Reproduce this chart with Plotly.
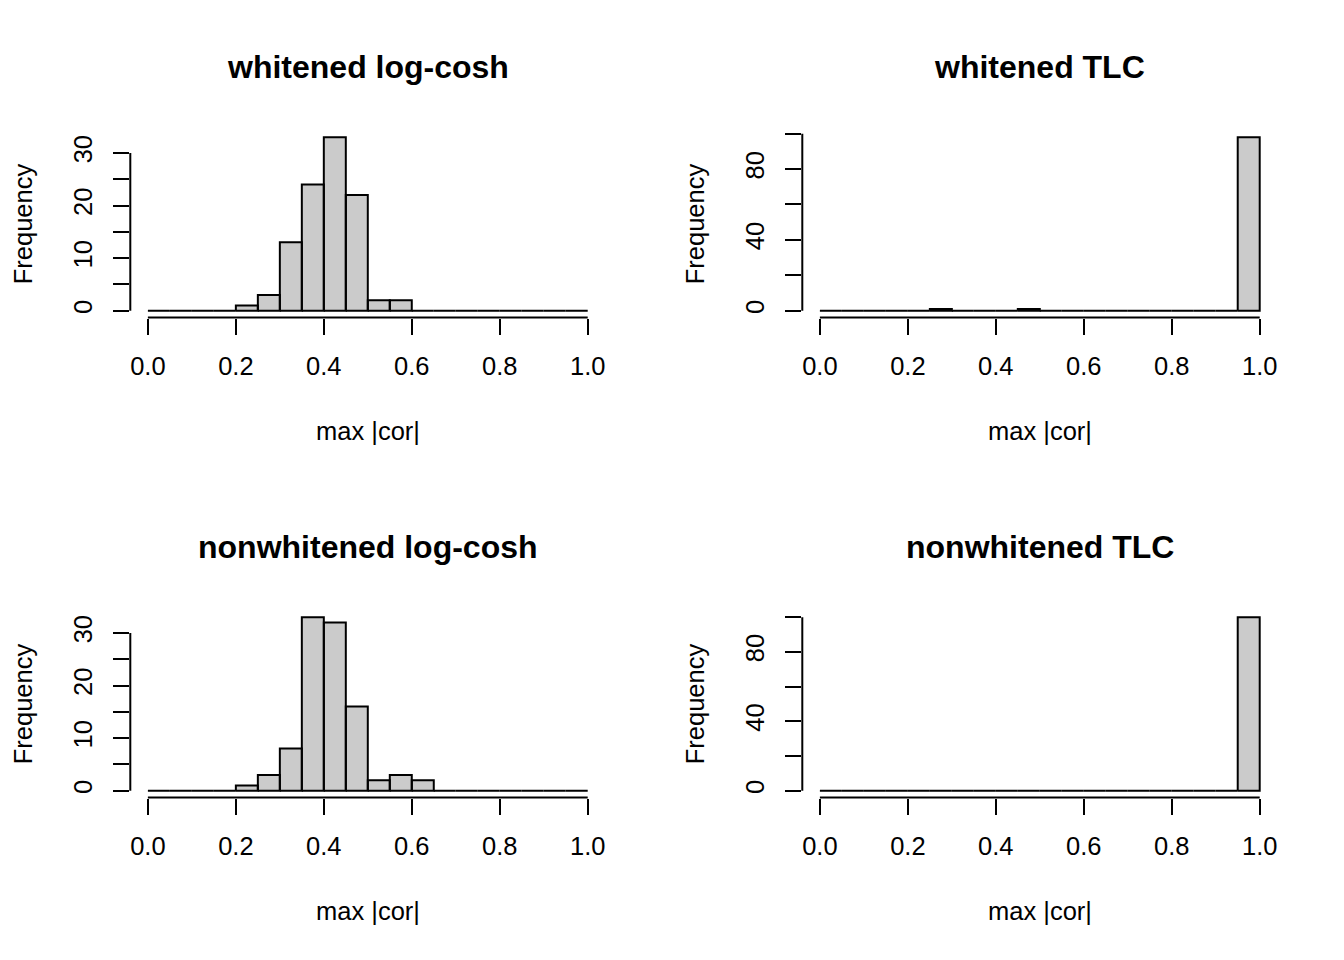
import plotly.graph_objects as go

# === Data (breaks every 0.05) ===
breaks = [0.00, 0.05, 0.10, 0.15, 0.20, 0.25, 0.30, 0.35, 0.40, 0.45, 0.50,
          0.55, 0.60, 0.65, 0.70, 0.75, 0.80, 0.85, 0.90, 0.95, 1.00]

counts_whitened_logcosh = [0, 0, 0, 0, 1, 3, 13, 24, 33, 22, 2, 2, 0, 0, 0, 0, 0, 0, 0, 0]
counts_whitened_tlc = [0, 0, 0, 0, 0, 1, 0, 0, 0, 1, 0, 0, 0, 0, 0, 0, 0, 0, 0, 98]
counts_nonwhitened_logcosh = [0, 0, 0, 0, 1, 3, 8, 33, 32, 16, 2, 3, 2, 0, 0, 0, 0, 0, 0, 0]
counts_nonwhitened_tlc = [0, 0, 0, 0, 0, 0, 0, 0, 0, 0, 0, 0, 0, 0, 0, 0, 0, 0, 0, 100]

panel_titles = ["whitened log-cosh", "whitened TLC",
                "nonwhitened log-cosh", "nonwhitened TLC"]

x_tickvals = [0.0, 0.2, 0.4, 0.6, 0.8, 1.0]
x_ticktext = ["0.0", "0.2", "0.4", "0.6", "0.8", "1.0"]

# y ticks: R keeps every tick but drops labels that would overlap
y_ticks_logcosh = [0, 5, 10, 15, 20, 25, 30]
y_labels_logcosh = ["0", "", "10", "", "20", "", "30"]
y_ticks_tlc = [0, 20, 40, 60, 80, 100]
y_labels_tlc = ["0", "", "40", "", "80", ""]

# --- page geometry (pixels), mimicking par(mfrow=c(2,2)) ---
W, H = 1344, 960
PAGE_PAD = 8  # default <body> margin of the html page
FONT = "Liberation Sans, Arial, Helvetica, sans-serif"
plot_left = [130.3 - PAGE_PAD, 802.3 - PAGE_PAD]
plot_top = [130.3 - PAGE_PAD, 610.3 - PAGE_PAD]
plot_w, plot_h = 475.0, 187.3


def px_x(p):
    return p / W


def px_y(p):
    return 1 - p / H


panels = [
    (counts_whitened_logcosh, y_ticks_logcosh, y_labels_logcosh),
    (counts_whitened_tlc, y_ticks_tlc, y_labels_tlc),
    (counts_nonwhitened_logcosh, y_ticks_logcosh, y_labels_logcosh),
    (counts_nonwhitened_tlc, y_ticks_tlc, y_labels_tlc),
]

fig = go.Figure()
layout = {}
shapes = []
annotations = []

for i, (counts, yticks, ylabels) in enumerate(panels):
    n = i + 1
    row, col = divmod(i, 2)
    xa = "x" if n == 1 else f"x{n}"
    ya = "y" if n == 1 else f"y{n}"

    # each bin as a closed rectangle, like R's rect() in hist()
    xs, ys = [], []
    for j, c in enumerate(counts):
        x0, x1 = breaks[j], breaks[j + 1]
        xs += [x0, x0, x1, x1, x0, None]
        ys += [0, c, c, 0, 0, None]

    fig.add_trace(go.Scatter(
        x=xs, y=ys, xaxis=xa, yaxis=ya,
        mode="lines", fill="toself", fillcolor="#CBCBCB",
        line=dict(color="black", width=2),
        hoverinfo="skip", showlegend=False,
    ))

    ymax = max(counts)
    left, top = plot_left[col], plot_top[row]
    x_dom = [px_x(left), px_x(left + plot_w)]
    y_dom = [px_y(top + plot_h), px_y(top)]

    layout["xaxis" if n == 1 else f"xaxis{n}"] = dict(
        domain=x_dom, anchor=ya, range=[-0.04, 1.04],
        tickvals=x_tickvals, ticktext=x_ticktext,
        ticks="outside", ticklen=16, tickwidth=2, tickcolor="black",
        ticklabelstandoff=10,
        showline=False, showgrid=False, zeroline=False,
        tickfont=dict(family=FONT, size=25.5, color="black"),
    )
    layout["yaxis" if n == 1 else f"yaxis{n}"] = dict(
        domain=y_dom, anchor=xa, range=[-0.04 * ymax, 1.04 * ymax],
        tickvals=yticks, ticktext=ylabels, tickangle=-90,
        ticks="outside", ticklen=16, tickwidth=2, tickcolor="black",
        ticklabelstandoff=11,
        showline=False, showgrid=False, zeroline=False,
        tickfont=dict(family=FONT, size=25.5, color="black"),
    )

    # R style axis lines: only from first to last tick
    shapes.append(dict(type="line", xref=xa, yref=f"{ya} domain",
                       x0=x_tickvals[0], x1=x_tickvals[-1], y0=0, y1=0,
                       line=dict(color="black", width=2)))
    shapes.append(dict(type="line", xref=f"{xa} domain", yref=ya,
                       x0=0, x1=0, y0=yticks[0], y1=yticks[-1],
                       line=dict(color="black", width=2)))

    cx = left + plot_w / 2
    cy = top + plot_h / 2
    # main title
    annotations.append(dict(
        text="<b>" + panel_titles[i] + "</b>", xref="paper", yref="paper",
        x=px_x(cx), y=px_y(top - 63), xanchor="center", yanchor="middle",
        showarrow=False, font=dict(family=FONT, size=32, color="black"),
    ))
    # x axis title
    annotations.append(dict(
        text="max |cor|", xref="paper", yref="paper",
        x=px_x(cx), y=px_y(top + plot_h + 113), xanchor="center", yanchor="middle",
        showarrow=False, font=dict(family=FONT, size=25.5, color="black"),
    ))
    # y axis title
    annotations.append(dict(
        text="Frequency", xref="paper", yref="paper", textangle=-90,
        x=px_x(left - 107), y=px_y(cy), xanchor="center", yanchor="middle",
        showarrow=False, font=dict(family=FONT, size=25.5, color="black"),
    ))

fig.update_layout(
    width=W, height=H,
    margin=dict(l=0, r=0, t=0, b=0),
    plot_bgcolor="white", paper_bgcolor="white",
    shapes=shapes, annotations=annotations,
    **layout,
)

fig.write_html("out.html")
